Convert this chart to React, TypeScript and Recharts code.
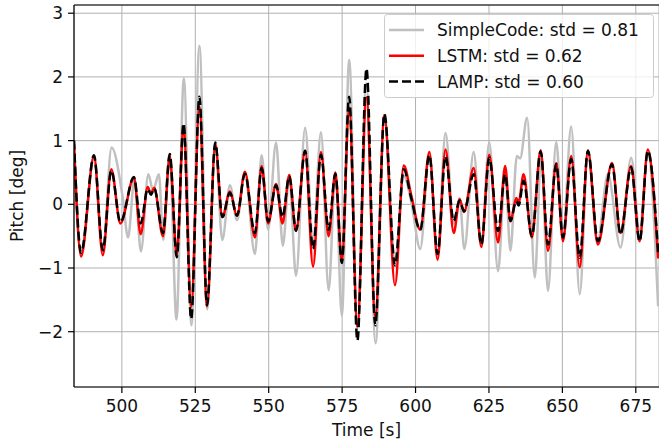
import React from 'react'
import { CartesianGrid, Line, LineChart, ReferenceLine, XAxis, YAxis } from 'recharts'

// peak / trough readings, time in s, pitch in deg
const timeModel = [
  483.7, 486.1, 490.5, 493.5, 496.4, 499.5, 504.1, 506.4, 508.8, 509.9,
  511.0, 514.0, 516.3, 518.7, 521.0, 523.6, 526.4, 529.0, 531.8, 534.2,
  536.8, 539.2, 541.9, 545.3, 547.6, 549.8, 552.5, 554.7, 557.0, 559.3,
  562.4, 565.1, 567.8, 570.4, 572.7, 574.9, 577.4, 580.2, 583.3, 586.3,
  589.4, 593.0, 596.0, 598.5, 601.6, 604.7, 607.5, 610.2, 613.0, 615.0,
  616.5, 619.8, 622.4, 625.1, 628.1, 630.5, 632.3, 634.3, 635.1, 636.8,
  639.6, 642.6, 645.1, 647.9, 650.2, 653.0, 655.9, 658.7, 662.1, 666.9,
  669.8, 673.4, 676.3, 679.1, 682.6,
]
const lampPitch = [
  1.0, -0.76, 0.77, -0.72, 0.53, -0.28, 0.43, -0.3, 0.24, 0.15,
  0.25, -0.45, 0.79, -0.83, 1.27, -1.8, 1.69, -1.58, 0.97, -0.2,
  0.18, -0.18, 0.48, -0.45, 0.57, -0.27, 0.3, -0.2, 0.44, -0.41,
  0.84, -0.7, 0.78, -0.4, 0.48, -0.92, 1.69, -2.14, 2.13, -1.9,
  1.42, -0.96, 0.55, 0.1, -0.4, 0.77, -0.78, 0.75, -0.26, 0.06,
  -0.11, 0.47, -0.63, 0.73, -0.42, 0.47, -0.26, 0.05, -0.02, 0.37,
  -0.5, 0.83, -0.63, 0.63, -0.52, 0.71, -0.84, 0.84, -0.58, 0.63,
  -0.47, 0.58, -0.58, 0.84, -0.75,
]
const lstmPitch = [
  0.95, -0.82, 0.76, -0.8, 0.55, -0.3, 0.42, -0.47, 0.27, 0.17,
  0.26, -0.5, 0.76, -0.8, 1.22, -1.6, 1.53, -1.6, 0.95, -0.2,
  0.2, -0.18, 0.51, -0.52, 0.6, -0.3, 0.32, -0.3, 0.46, -0.42,
  0.84, -0.98, 0.82, -0.5, 0.5, -0.9, 1.52, -1.92, 1.68, -1.77,
  1.4, -1.27, 0.61, 0.15, -0.4, 0.82, -0.87, 0.86, -0.45, 0.08,
  -0.12, 0.57, -0.67, 0.78, -0.6, 0.6, -0.27, 0.1, 0.03, 0.47,
  -0.52, 0.85, -0.73, 0.65, -0.58, 0.76, -0.99, 0.84, -0.63, 0.65,
  -0.45, 0.6, -0.58, 0.86, -0.85,
]

const timeSimple = [
  483.7, 486.1, 490.5, 493.5, 496.5, 500.3, 502.1, 504.3, 506.5, 509.0,
  510.6, 512.6, 514.1, 516.3, 518.6, 521.1, 523.7, 526.4, 529.1, 531.8,
  534.2, 536.8, 539.2, 541.9, 545.3, 547.6, 549.8, 552.5, 554.8, 557.0,
  559.3, 562.4, 565.1, 567.8, 570.4, 572.7, 574.9, 577.4, 580.2, 583.2,
  586.4, 589.4, 593.0, 596.0, 598.5, 601.6, 604.7, 607.5, 610.2, 613.0,
  615.0, 616.6, 619.8, 622.4, 625.1, 628.1, 630.5, 632.3, 634.5, 635.6,
  638.0, 640.6, 642.8, 645.1, 647.9, 650.2, 653.0, 655.9, 658.7, 661.9,
  665.5, 669.8, 673.4, 676.3, 679.1, 682.6,
]
const simplePitch = [
  1.0, -0.78, 0.72, -0.72, 0.89, 0.1, -0.52, 0.4, -0.74, 0.47,
  0.22, 0.47, -0.56, 0.75, -1.81, 1.98, -1.9, 2.49, -1.65, 0.95,
  -0.56, 0.3, -0.25, 0.5, -0.78, 0.77, -0.4, 0.97, -0.65, 0.42,
  -1.12, 1.2, -0.58, 1.13, -1.35, 0.5, -1.75, 2.27, -1.95, 1.9,
  -2.18, 1.4, -0.85, 0.45, 0.05, -0.7, 0.78, -0.78, 1.12, -0.3,
  0.1, -0.7, 0.82, -0.6, 0.97, -1.05, 0.5, -0.73, 0.76, 0.72,
  1.36, -1.15, 0.8, -1.36, 0.98, -0.5, 1.22, -1.41, 0.84, -0.6,
  0.47, -0.68, 0.73, -0.42, 0.8, -1.6,
]

const xTicks = [500, 525, 550, 575, 600, 625, 650, 675]
const yTicks = [-2, -1, 0, 1, 2, 3]
const legendItems = ['SimpleCode: std = 0.81', 'LSTM: std = 0.62', 'LAMP: std = 0.60']

const X_MIN = 483.7
const X_MAX = 682.9
const Y_MIN = -2.868
const Y_MAX = 3.129

const FONT = 'DejaVu Sans'

const modelRows = timeModel.map((t, i) => ({ t, lamp: lampPitch[i], lstm: lstmPitch[i] }))
const simpleRows = timeSimple.map((t, i) => ({ t, simple: simplePitch[i] }))

const fmtY = (v: number) => (v < 0 ? '\u2212' + Math.abs(v) : String(v))

const App = () => {
  return (
    <div style={{ position: 'absolute', left: 0, top: 0, width: 659, height: 441, overflow: 'hidden', background: '#fff' }}>
      <LineChart width={659} height={441} margin={{ top: 5, right: 0, bottom: 0, left: 0 }}>
        <CartesianGrid stroke="#b0b0b0" strokeWidth={1} />
        <XAxis
          type="number"
          dataKey="t"
          domain={[X_MIN, X_MAX]}
          ticks={xTicks}
          interval={0}
          allowDataOverflow
          height={54}
          tickSize={6}
          tickMargin={7}
          stroke="#000"
          strokeWidth={1.2}
          tick={{ fontSize: 17, fill: '#111', fontFamily: FONT }}
        />
        <YAxis
          type="number"
          domain={[Y_MIN, Y_MAX]}
          ticks={yTicks}
          interval={0}
          allowDataOverflow
          width={74}
          tickSize={6}
          tickMargin={5}
          stroke="#000"
          strokeWidth={1.2}
          tickFormatter={fmtY}
          tick={{ fontSize: 17, fill: '#111', fontFamily: FONT }}
        />
        <ReferenceLine y={Y_MAX} stroke="#000" strokeWidth={1.2} />
        <Line data={simpleRows} dataKey="simple" type="monotone" stroke="#c0c0c0" strokeWidth={2.5} dot={false} isAnimationActive={false} />
        <Line data={modelRows} dataKey="lstm" type="monotone" stroke="#ff0000" strokeWidth={2.5} dot={false} isAnimationActive={false} />
        <Line data={modelRows} dataKey="lamp" type="monotone" stroke="#000" strokeWidth={2.5} strokeDasharray="9 4" dot={false} isAnimationActive={false} />

        <text x={17} y={196} transform="rotate(-90 17 196)" textAnchor="middle" dominantBaseline="central" fontSize={17} fontFamily={FONT} fill="#111">
          Pitch [deg]
        </text>
        <text x={366.5} y={436} textAnchor="middle" fontSize={17} fontFamily={FONT} fill="#111">
          Time [s]
        </text>

        <g>
          <rect x={384.5} y={14.5} width={269} height={83} rx={3} fill="#fff" fillOpacity={0.8} stroke="#cccccc" />
          {legendItems.map((label, i) => {
            const y = 30 + i * 25.8
            return (
              <g key={label}>
                {i === 0 && <line x1={389} x2={424} y1={y} y2={y} stroke="#c0c0c0" strokeWidth={2.5} />}
                {i === 1 && <line x1={389} x2={424} y1={y} y2={y} stroke="#ff0000" strokeWidth={2.5} />}
                {i === 2 && <line x1={389} x2={424} y1={y} y2={y} stroke="#000" strokeWidth={2.5} strokeDasharray="9 4" />}
                <text x={437} y={y} dominantBaseline="central" fontSize={17} fontFamily={FONT} fill="#111">
                  {label}
                </text>
              </g>
            )
          })}
        </g>
      </LineChart>
    </div>
  )
}

export default App
